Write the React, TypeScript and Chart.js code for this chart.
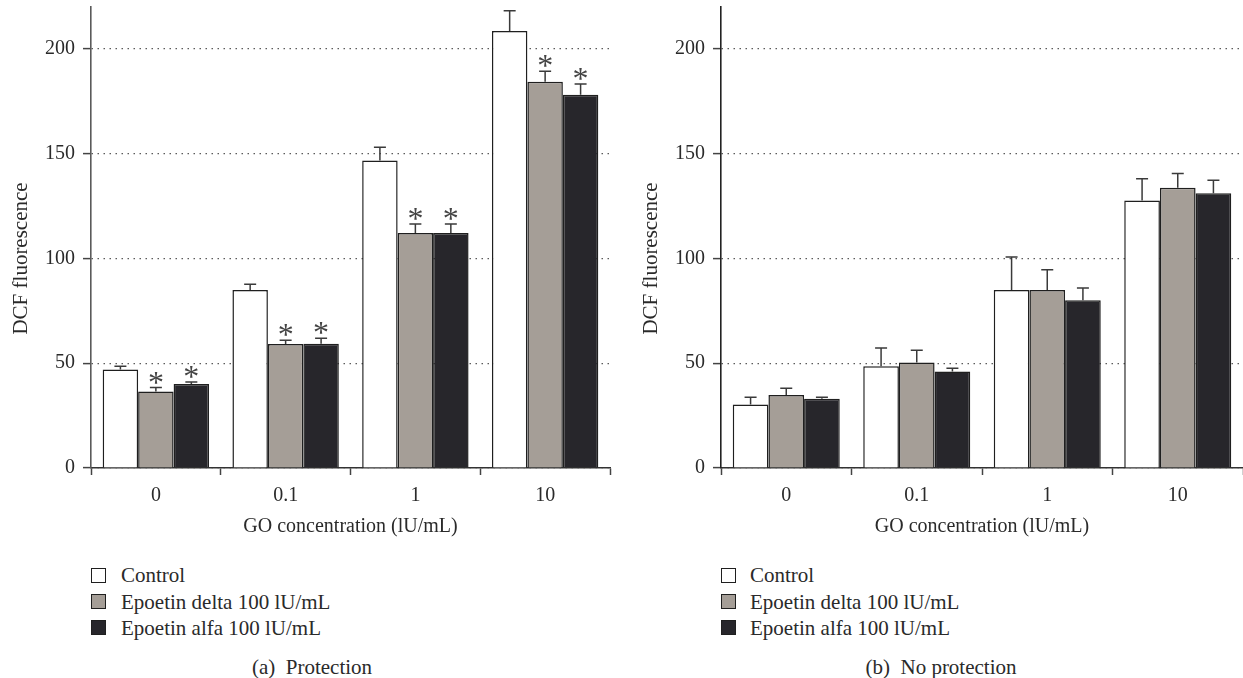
import React, { useEffect, useRef } from "react";
import { Chart, registerables } from "chart.js";

Chart.register(...registerables);

// ---------- data ----------
const categories = ["0", "0.1", "1", "10"];
const seriesNames = ["Control", "Epoetin delta 100 lU/mL", "Epoetin alfa 100 lU/mL"];
const seriesColors = ["#ffffff", "#a59e97", "#27262b"];

const protControl = [47, 85, 146.8, 208.5];
const protDelta = [36.5, 59.2, 112.2, 184.3];
const protAlfa = [40.1, 59.3, 112.2, 178.1];
const protControlErr = [1.6, 2.7, 6.3, 9.7];
const protDeltaErr = [1.9, 1.8, 4.3, 5.0];
const protAlfaErr = [0.9, 2.6, 4.3, 5.2];
const protControlStar = [false, false, false, false];
const protDeltaStar = [true, true, true, true];
const protAlfaStar = [true, true, true, true];

const noProtControl = [30.3, 48.6, 85, 127.6];
const noProtDelta = [34.8, 50.3, 85, 133.8];
const noProtAlfa = [33, 46, 80, 131.1];
const noProtControlErr = [3.5, 8.7, 15.7, 10.4];
const noProtDeltaErr = [3.3, 5.9, 9.6, 6.8];
const noProtAlfaErr = [0.8, 1.6, 5.9, 6.2];
const noStar = [false, false, false, false];

const yTicks = [0, 50, 100, 150, 200];
const yMin = 0;
const yMax = 220;

const yTitle = "DCF fluorescence";
const xTitle = "GO concentration (lU/mL)";
const captions = ["(a)  Protection", "(b)  No protection"];

// ---------- style ----------
const FONT = "'Liberation Serif', 'DejaVu Serif', serif";
const TEXT = "#2a2a2a";
const CANVAS_H = 560;
const AXIS_Y = 468;

const errorPlugin = {
  id: "errorBars",
  afterDatasetsDraw(chart: any) {
    const ctx = chart.ctx;
    const yScale = chart.scales.y;
    chart.data.datasets.forEach((ds: any, i: number) => {
      const meta = chart.getDatasetMeta(i);
      meta.data.forEach((el: any, j: number) => {
        const v = ds.data[j];
        const e = ds.errors[j];
        const yTop = yScale.getPixelForValue(v + e);
        ctx.save();
        ctx.strokeStyle = "#3a3a3a";
        ctx.lineWidth = 1.5;
        ctx.beginPath();
        ctx.moveTo(el.x, el.y);
        ctx.lineTo(el.x, yTop);
        ctx.moveTo(el.x - 6, yTop);
        ctx.lineTo(el.x + 6, yTop);
        ctx.stroke();
        if (ds.stars[j]) {
          ctx.fillStyle = "#444";
          ctx.font = `32px ${FONT}`;
          ctx.textAlign = "center";
          ctx.textBaseline = "alphabetic";
          ctx.fillText("*", el.x, yTop + 5);
        }
        ctx.restore();
      });
    });
  },
};

const titlePlugin = {
  id: "axisTitles",
  afterDraw(chart: any) {
    const ctx = chart.ctx;
    const { x, y } = chart.scales;
    ctx.save();
    ctx.fillStyle = TEXT;
    ctx.font = `21px ${FONT}`;
    ctx.textAlign = "center";
    ctx.textBaseline = "alphabetic";
    ctx.translate(27, y.getPixelForValue(100));
    ctx.rotate(-Math.PI / 2);
    ctx.fillText(yTitle, 0, 0);
    ctx.restore();
    ctx.save();
    ctx.fillStyle = TEXT;
    ctx.font = `20px ${FONT}`;
    ctx.textAlign = "center";
    ctx.textBaseline = "middle";
    ctx.fillText(xTitle, (x.left + x.right) / 2, 527);
    ctx.restore();
  },
};

function Panel(props: {
  left: number;
  width: number;
  padRight: number;
  axisColor: string;
  values: number[][];
  errors: number[][];
  stars: boolean[][];
}) {
  const ref = useRef<HTMLCanvasElement | null>(null);
  useEffect(() => {
    if (!ref.current) return;
    const chart = new Chart(ref.current, {
      type: "bar",
      data: {
        labels: categories,
        datasets: props.values.map((vals, i) => ({
          label: seriesNames[i],
          data: vals,
          errors: props.errors[i],
          stars: props.stars[i],
          backgroundColor: seriesColors[i],
          borderColor: "#1f1f1f",
          borderWidth: 1.5,
          categoryPercentage: 0.82,
          barPercentage: 1.0,
        })) as any,
      },
      options: {
        animation: false,
        responsive: false,
        maintainAspectRatio: false,
        layout: { padding: { top: 7, right: props.padRight, left: 0, bottom: 0 } },
        plugins: { legend: { display: false }, tooltip: { enabled: false } },
        scales: {
          x: {
            type: "category",
            offset: true,
            grid: {
              display: true,
              offset: true,
              drawOnChartArea: false,
              drawTicks: true,
              tickLength: 7,
              tickColor: "#444",
              tickWidth: 1.5,
            },
            border: { display: true, color: "#333", width: 1.5 },
            ticks: {
              color: TEXT,
              font: { family: FONT, size: 20 },
              padding: 9,
              maxRotation: 0,
              autoSkip: false,
            },
            afterFit: (s: any) => {
              s.height = CANVAS_H - AXIS_Y;
              s.paddingLeft = 0;
              s.paddingRight = 0;
            },
          },
          y: {
            type: "linear",
            min: yMin,
            max: yMax,
            grid: {
              color: "#333",
              lineWidth: 1.2,
              drawTicks: true,
              tickLength: 8,
              tickColor: "#444",
              tickWidth: 1.5,
              tickBorderDash: [],
            },
            border: { display: true, color: props.axisColor, width: 1.6, dash: [1.2, 4.8] },
            ticks: {
              color: TEXT,
              font: { family: FONT, size: 20 },
              padding: 8,
            },
            afterBuildTicks: (s: any) => {
              s.ticks = yTicks.map((v) => ({ value: v }));
            },
            afterFit: (s: any) => {
              s.width = 91;
              s.paddingTop = 0;
              s.paddingBottom = 0;
            },
          },
        },
      } as any,
      plugins: [errorPlugin, titlePlugin],
    });
    return () => chart.destroy();
  }, []);
  return (
    <canvas
      ref={ref}
      width={props.width}
      height={CANVAS_H}
      style={{ position: "absolute", left: props.left, top: 0, width: props.width, height: CANVAS_H }}
    />
  );
}

function Legend(props: { boxX: number; textX: number }) {
  const rows = [575, 601.5, 627.5];
  return (
    <>
      {seriesNames.map((name, i) => (
        <React.Fragment key={name}>
          <div
            style={{
              position: "absolute",
              left: props.boxX,
              top: rows[i] - 7.5,
              width: 15,
              height: 15,
              boxSizing: "border-box",
              border: "1.5px solid #1f1f1f",
              background: seriesColors[i],
            }}
          />
          <div
            style={{
              position: "absolute",
              left: props.textX,
              top: rows[i] - 12,
              height: 24,
              lineHeight: "24px",
              fontFamily: FONT,
              fontSize: 21,
              color: TEXT,
              whiteSpace: "pre",
            }}
          >
            {name}
          </div>
        </React.Fragment>
      ))}
    </>
  );
}

function Caption(props: { cx: number; text: string }) {
  return (
    <div
      style={{
        position: "absolute",
        left: props.cx,
        top: 666.5 - 12,
        transform: "translateX(-50%)",
        lineHeight: "24px",
        fontFamily: FONT,
        fontSize: 21,
        color: TEXT,
        whiteSpace: "pre",
      }}
    >
      {props.text}
    </div>
  );
}

export default function App() {
  return (
    <div
      style={{
        position: "absolute",
        left: 0,
        top: 0,
        width: 1243,
        height: 678,
        overflow: "hidden",
        background: "#fff",
      }}
    >
      <Panel
        left={0}
        width={620}
        padRight={10}
        axisColor="#5a5a5a"
        values={[protControl, protDelta, protAlfa]}
        errors={[protControlErr, protDeltaErr, protAlfaErr]}
        stars={[protControlStar, protDeltaStar, protAlfaStar]}
      />
      <Panel
        left={630}
        width={613}
        padRight={0}
        axisColor="#222"
        values={[noProtControl, noProtDelta, noProtAlfa]}
        errors={[noProtControlErr, noProtDeltaErr, noProtAlfaErr]}
        stars={[noStar, noStar, noStar]}
      />
      <Legend boxX={91} textX={121} />
      <Legend boxX={721} textX={750} />
      <Caption cx={312} text={captions[0]} />
      <Caption cx={941} text={captions[1]} />
    </div>
  );
}
